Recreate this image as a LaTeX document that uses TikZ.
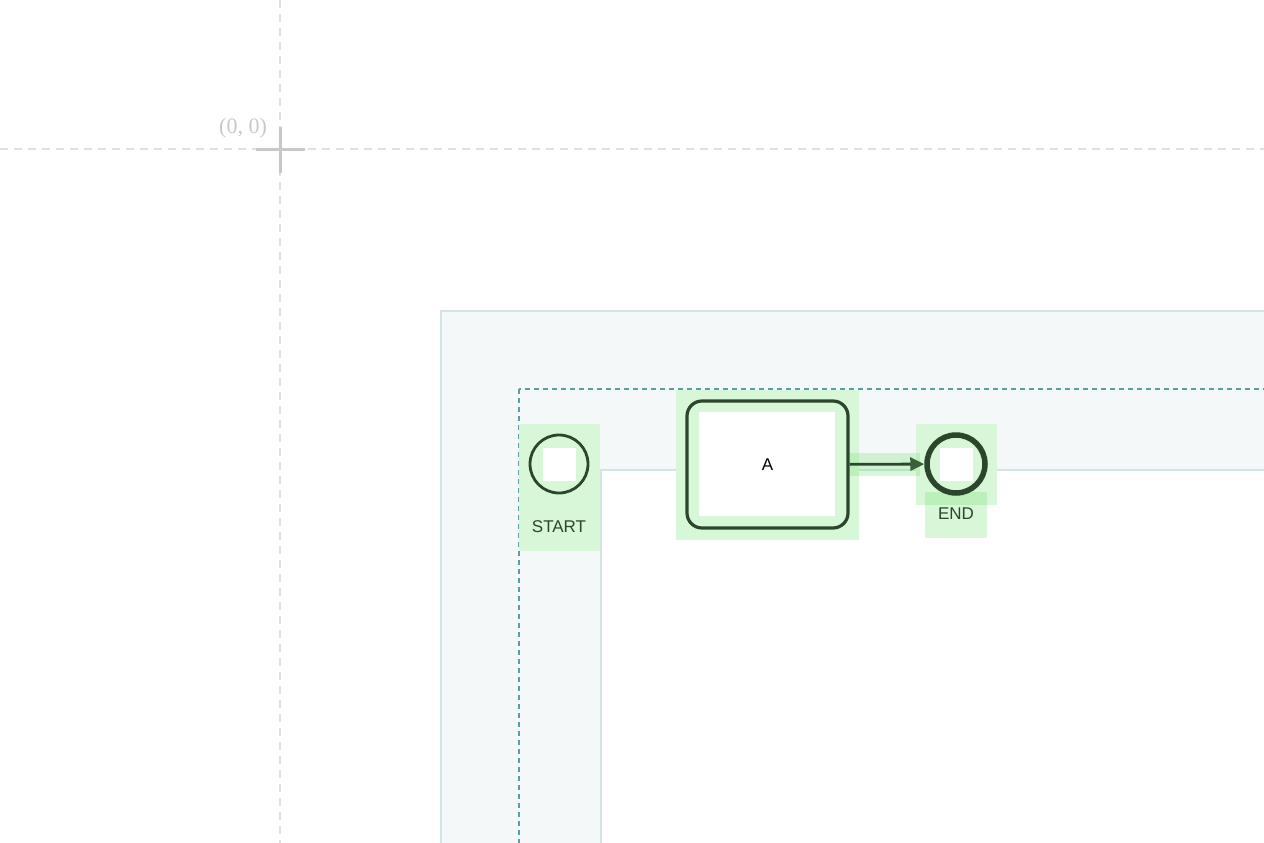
\documentclass[tikz,border=0pt]{standalone}
\usepackage{fontspec}
\setmainfont{Liberation Sans}
\newfontfamily\gridfont{Liberation Serif}
\usetikzlibrary{arrows.meta}
\definecolor{hl}{HTML}{D8F7D8}
\definecolor{hlgreen}{HTML}{66DD66}
\definecolor{ink}{HTML}{2B472B}
\definecolor{tipink}{HTML}{3A603A}
\definecolor{lanefill}{HTML}{F4F8F9}
\definecolor{laneline}{HTML}{D2E4E6}
\definecolor{poolline}{HTML}{5B9FA0}
\definecolor{gridline}{HTML}{E0E0E0}
\definecolor{crossline}{HTML}{C8C8C8}
\def\eventnode{\node[circle,draw=ink,minimum size=58pt,inner sep=0pt]}
\def\hlbox{\fill[hl]}
\def\hlover{\fill[hlgreen,fill opacity=0.25]}

\begin{document}
\begin{tikzpicture}[x=1pt,y=-1pt,auto]
\useasboundingbox (0,0) rectangle (1264,843);
\clip (0,0) rectangle (1264,843);
% grid and origin
\draw[gridline,line width=2.5pt,dash pattern=on 8pt off 6pt] (280,0) -- (280,843);
\draw[gridline,line width=2.5pt,dash pattern=on 8pt off 6pt] (0,149) -- (1264,149);
\draw[crossline,line width=3pt] (280,127) -- (280,173);
\draw[crossline,line width=3pt] (256,149) -- (305,149);
\node[text=crossline,font=\gridfont\fontsize{22}{26}\selectfont] (origin) at (243,128) {(0, 0)};
% lane
\filldraw[fill=lanefill,draw=laneline,line width=1.8pt] (441,311) rectangle (1290,870);
\filldraw[fill=white,draw=laneline,line width=1.8pt] (601,470) rectangle (1290,870);
\draw[poolline,line width=2.5pt,dash pattern=on 5pt off 4pt] (519,389) rectangle (1290,870);
% highlights
\hlbox (519,424) rectangle (600,551);
\hlbox (676,390) rectangle (859,540);
\hlbox (916,424) rectangle (997,505);
\hlover (848,453) rectangle (920,476);
\hlover (925,492) rectangle (987,538);
\fill[white] (543,448) rectangle (576,481);
\fill[white] (699,412) rectangle (835,516);
\fill[white] (940,448) rectangle (973,481);
% elements
\eventnode[line width=2.8pt] (start) at (559,464) {};
\node[draw=ink,line width=3.2pt,rounded corners=15pt,minimum width=161pt,minimum height=127pt,
  font=\fontsize{17}{20}\selectfont] (taskA) at (767.5,464.5) {A};
\eventnode[line width=5.5pt] (end) at (956,464) {};
\node[text=ink,font=\fontsize{17}{20}\selectfont] (startlabel) at (559,527) {START};
\node[text=ink,font=\fontsize{17}{20}\selectfont] (endlabel) at (956,514) {END};
\draw[ink,line width=2.8pt,-{Triangle[length=14pt,width=13pt,color=tipink]}] (taskA) -- (end);
\end{tikzpicture}
\end{document}
